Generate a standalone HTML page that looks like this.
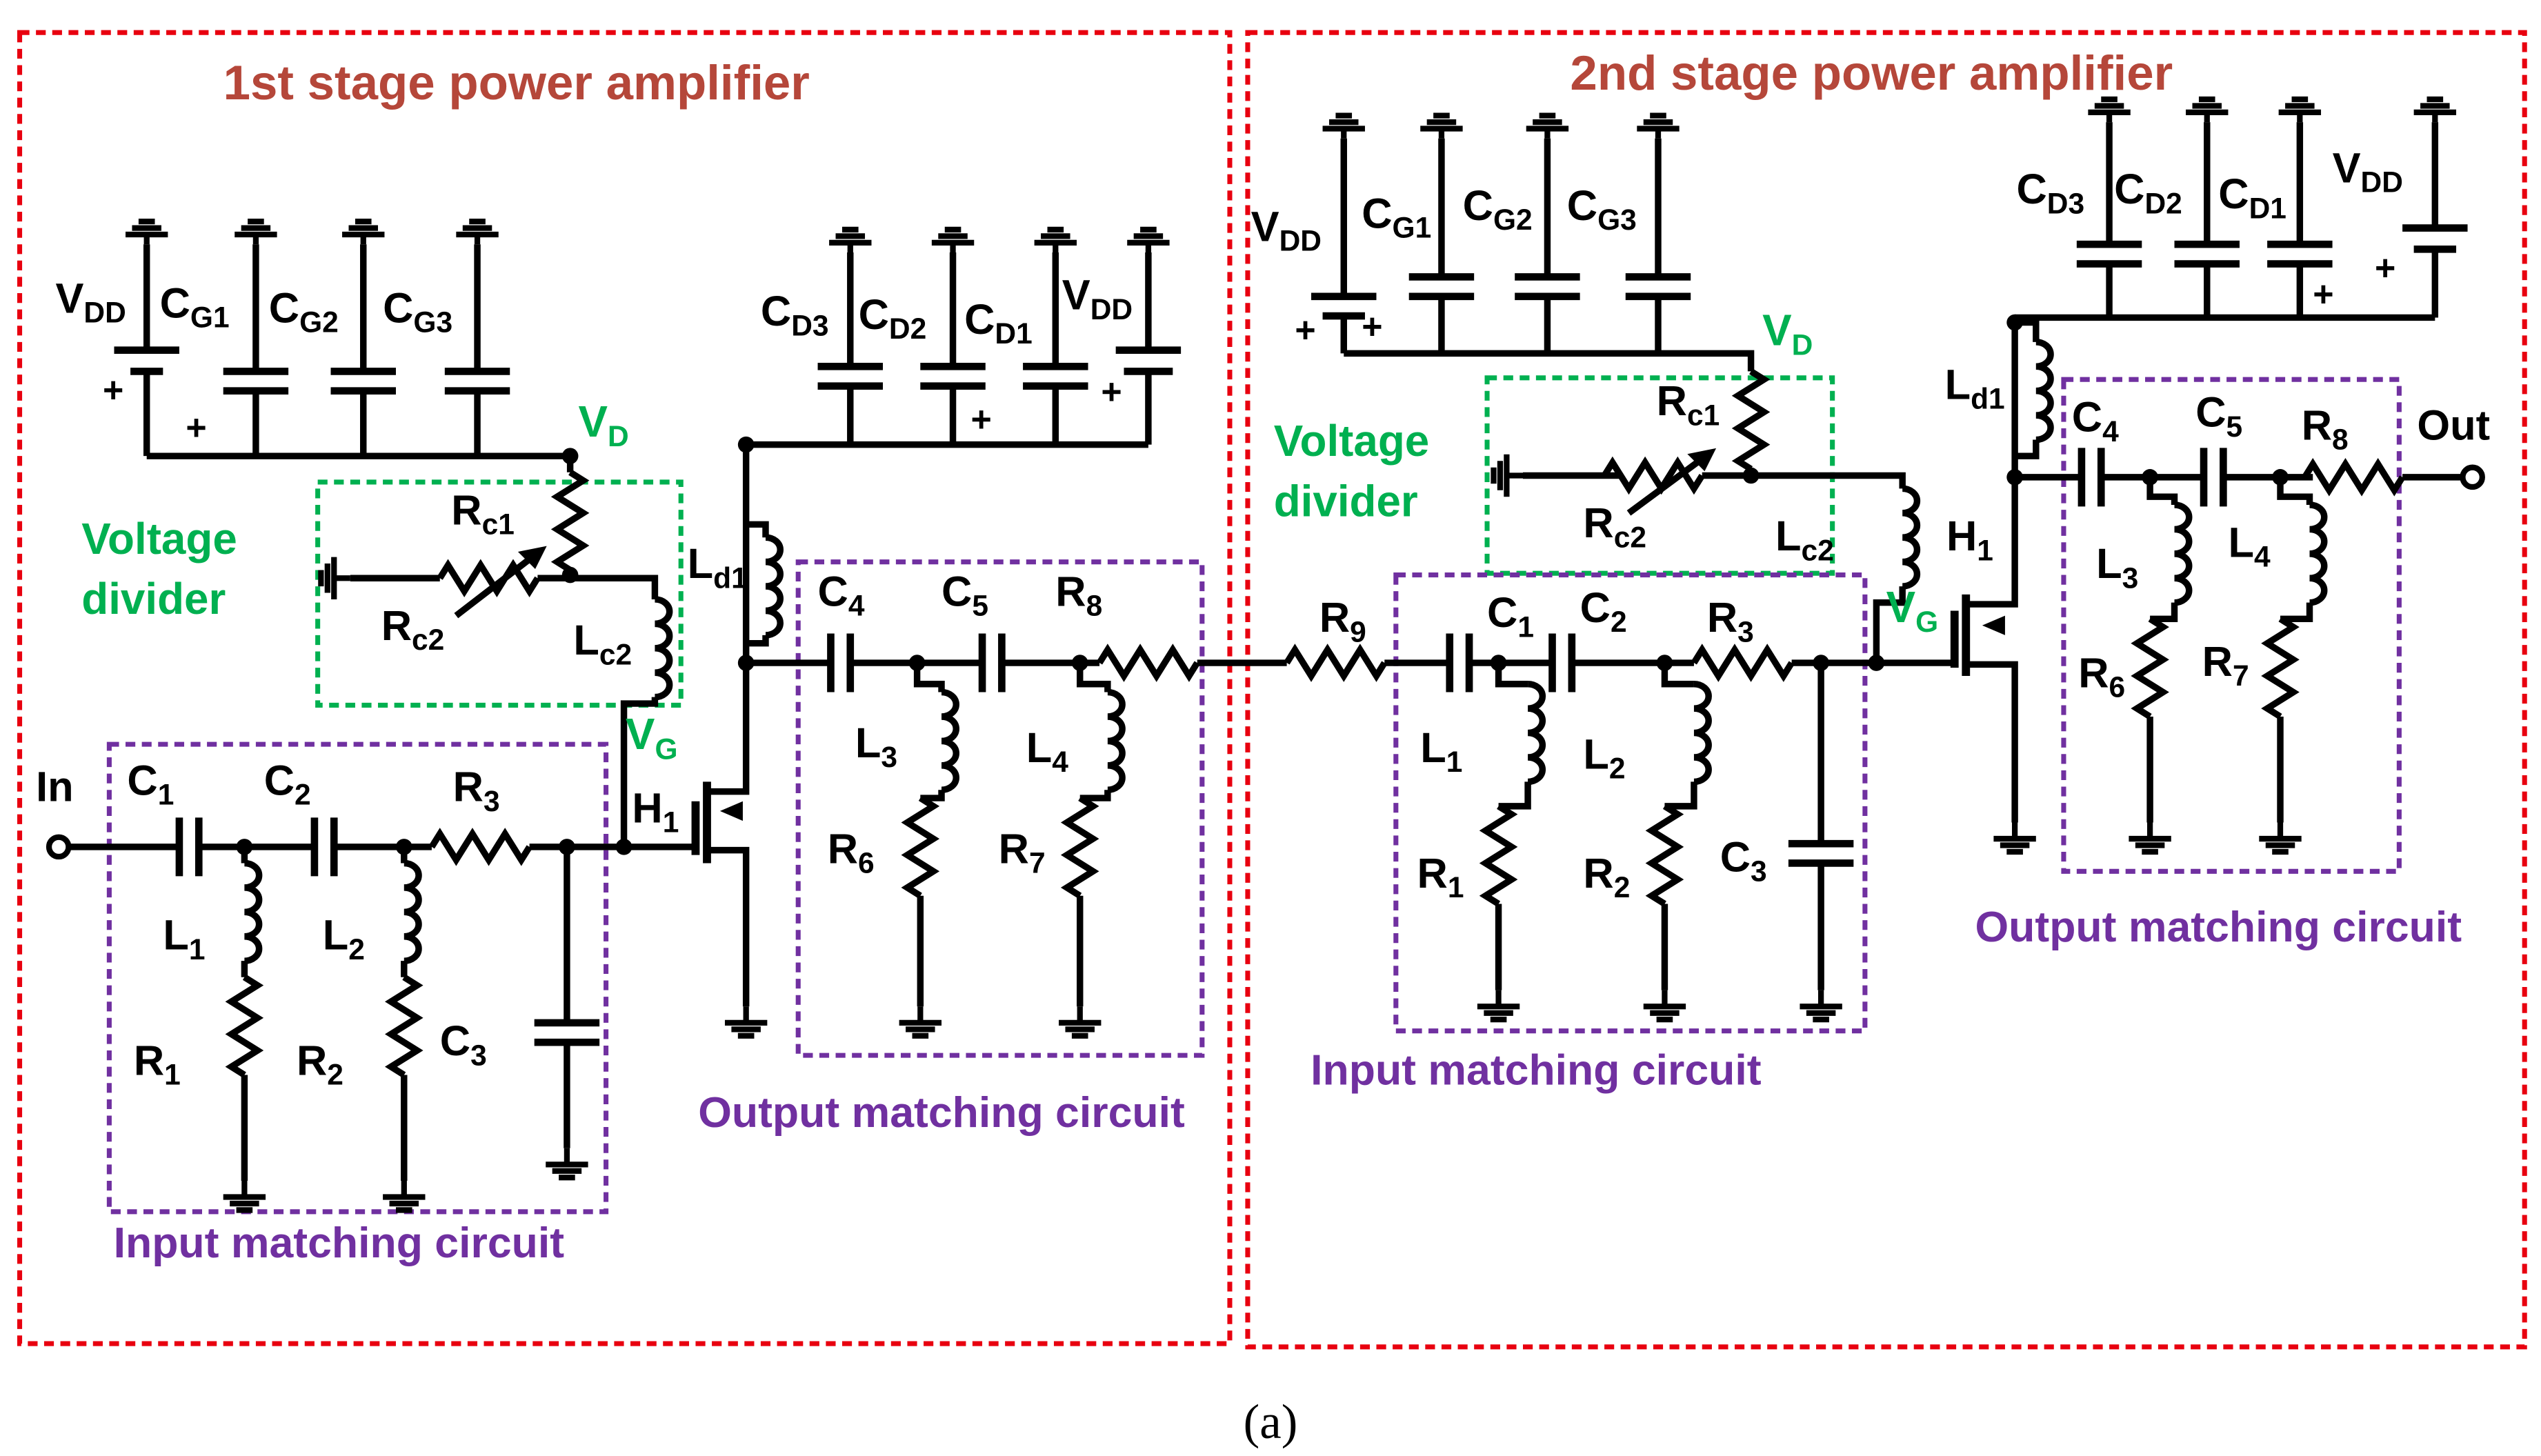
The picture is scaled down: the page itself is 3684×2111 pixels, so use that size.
<!DOCTYPE html>
<html><head><meta charset="utf-8"><style>
html,body{margin:0;padding:0;background:#fff}
svg{display:block}
text{font-family:"Liberation Sans",sans-serif;font-weight:bold}
</style></head><body>
<svg width="3684" height="2111" viewBox="0 0 1560 894" xmlns="http://www.w3.org/2000/svg">
<defs>
<path id="gd" d="M0 0 v10 M-13 10 h26 M-9 14 h18 M-5 18 h10" fill="none" stroke="#000" stroke-width="3.5"/>
<path id="gu" d="M0 0 v-6 M-13 -6 h26 M-9 -10 h18 M-5 -14 h10" fill="none" stroke="#000" stroke-width="3.5"/>
<path id="rv" d="M0 0 l8 5 l-16 10 l16 10 l-16 10 l16 10 l-16 10 l8 5" fill="none" stroke="#000" stroke-width="4" stroke-linejoin="miter"/>
<path id="lv" d="M0 0 a9 7.5 0 0 1 0 15 a9 7.5 0 0 1 0 15 a9 7.5 0 0 1 0 15 a9 7.5 0 0 1 0 15" fill="none" stroke="#000" stroke-width="4"/>
<path id="cv" d="M-20 0 h40 M-20 12 h40" fill="none" stroke="#000" stroke-width="4.5"/>
<path id="ch" d="M0 -18 v36 M12 -18 v36" fill="none" stroke="#000" stroke-width="4.5"/>
</defs>
<rect width="1560" height="894" fill="#fff"/>
<g fill="none" stroke="#e8000f" stroke-width="3" stroke-dasharray="6,4">
<rect x="12" y="20" width="743" height="805"/>
<rect x="766" y="20" width="784" height="807"/>
</g>
<g fill="#b5473a" font-size="30">
<text x="317" y="61" text-anchor="middle">1st stage power amplifier</text>
<text x="1149" y="55" text-anchor="middle">2nd stage power amplifier</text>
</g>
<text x="780" y="883" text-anchor="middle" font-size="30" style="font-family:'Liberation Serif',serif;font-weight:normal">(a)</text>

<g fill="none" stroke-width="3" stroke-dasharray="6,4">
<rect x="195" y="296" width="223" height="137" stroke="#00b050"/>
<rect x="913" y="232" width="212" height="120" stroke="#00b050"/>
<rect x="67" y="457" width="305" height="287" stroke="#7030a0"/>
<rect x="490" y="345" width="248" height="303" stroke="#7030a0"/>
<rect x="857" y="353" width="288" height="280" stroke="#7030a0"/>
<rect x="1267" y="233" width="206" height="302" stroke="#7030a0"/>
</g>

<g stroke="#000" stroke-width="4" fill="none">
<path d="M90 150 V215 M90 228 V280 M157 150 V228 M157 240 V280 M223 150 V228 M223 240 V280 M293 150 V228 M293 240 V280 M90 280 H350 V290"/>
<path d="M70 215 h40 M80 228 h20" stroke-width="4.5"/>
<path d="M350 350 V355 M215 355 H270 M330 355 H350 H402 V368 M402 428 V432 H383 V520"/>
<path d="M280 378 L332 338"/>
<path d="M332 338 l-10 2 l6 6z" fill="#000"/>
<path d="M40 520 H110 M122 520 H193 M205 520 H265 M325 520 H427 M150 520 V530 M150 590 V600 M150 660 V725 M248 520 V530 M248 590 V600 M248 660 V725 M348 520 V628 M348 640 V705"/>
<path d="M427 492 V525 M434 480 V530" stroke-width="5"/>
<path d="M434 486 H458 V273 M434 522 H458 V618"/>
<path d="M458 273 H705 M522 155 V225 M522 237 V273 M585 155 V225 M585 237 V273 M648 155 V225 M648 237 V273 M705 155 V215 M705 228 V273"/>
<path d="M685 215 h40 M690 228 h30" stroke-width="4.5"/>
<path d="M458 322 H470 V330 M470 390 V395 H458 M458 407 H510 M522 407 H603 M615 407 H675 M735 407 H790 M563 407 V420 H578 V425 M578 485 V490 H565 M565 550 V618 M663 407 V420 H680 V425 M680 485 V490 H663 M663 550 V618"/>
<path d="M850 407 H890 M902 407 H953 M965 407 H1040 M1100 407 H1200 M920 407 V420 H938 M938 480 V495 H920 M920 555 V608 M1022 407 V420 H1040 M1040 480 V495 H1022 M1022 555 V608 M1118 407 V518 M1118 530 V608"/>
<path d="M825 85 V182 M825 194 V217 M885 85 V170 M885 182 V217 M950 85 V170 M950 182 V217 M1018 85 V170 M1018 182 V217 M825 217 H1075 V228"/>
<path d="M805 182 h40 M812 194 h26" stroke-width="4.5"/>
<path d="M1075 288 V292 M935 292 H995 M1045 292 H1168 V300 M1168 360 V370 H1152 V407"/>
<path d="M1000 315 L1050 278"/>
<path d="M1050 278 l-10 2 l6 6z" fill="#000"/>
<path d="M1200 375 V410 M1207 365 V415" stroke-width="5"/>
<path d="M1207 371 H1237 V198 M1207 408 H1237 V505"/>
<path d="M1237 198 H1250 V210 M1250 270 V280 H1237"/>
<path d="M1237 195 H1495 M1295 75 V150 M1295 162 V195 M1355 75 V150 M1355 162 V195 M1412 75 V150 M1412 162 V195 M1495 75 V140 M1495 153 V195"/>
<path d="M1475 140 h40 M1482 153 h26" stroke-width="4.5"/>
<path d="M1237 293 H1278 M1290 293 H1353 M1365 293 H1420 M1475 293 H1513 M1320 293 V305 H1335 V310 M1335 370 V380 H1320 M1320 440 V505 M1400 293 V305 H1418 V310 M1418 370 V380 H1400 M1400 440 V505"/>
</g>
<use href="#gu" x="90" y="150"/><use href="#gu" x="157" y="150"/><use href="#gu" x="223" y="150"/><use href="#gu" x="293" y="150"/>
<use href="#gu" x="522" y="155"/><use href="#gu" x="585" y="155"/><use href="#gu" x="648" y="155"/><use href="#gu" x="705" y="155"/>
<use href="#gu" x="825" y="85"/><use href="#gu" x="885" y="85"/><use href="#gu" x="950" y="85"/><use href="#gu" x="1018" y="85"/>
<use href="#gu" x="1295" y="75"/><use href="#gu" x="1355" y="75"/><use href="#gu" x="1412" y="75"/><use href="#gu" x="1495" y="75"/>
<use href="#cv" x="157" y="228"/><use href="#cv" x="223" y="228"/><use href="#cv" x="293" y="228"/>
<use href="#cv" x="522" y="225"/><use href="#cv" x="585" y="225"/><use href="#cv" x="648" y="225"/>
<use href="#cv" x="885" y="170"/><use href="#cv" x="950" y="170"/><use href="#cv" x="1018" y="170"/>
<use href="#cv" x="1295" y="150"/><use href="#cv" x="1355" y="150"/><use href="#cv" x="1412" y="150"/>
<use href="#cv" x="348" y="628"/><use href="#cv" x="1118" y="518"/>
<use href="#ch" x="110" y="520"/><use href="#ch" x="193" y="520"/>
<use href="#ch" x="510" y="407"/><use href="#ch" x="603" y="407"/>
<use href="#ch" x="890" y="407"/><use href="#ch" x="953" y="407"/>
<use href="#ch" x="1278" y="293"/><use href="#ch" x="1353" y="293"/>
<use href="#rv" x="350" y="290"/><use href="#rv" x="150" y="600"/><use href="#rv" x="248" y="600"/>
<use href="#rv" x="565" y="490"/><use href="#rv" x="663" y="490"/>
<use href="#rv" x="920" y="495"/><use href="#rv" x="1022" y="495"/>
<use href="#rv" x="1075" y="228"/><use href="#rv" x="1320" y="380"/><use href="#rv" x="1400" y="380"/>
<use href="#rv" transform="translate(330 355) rotate(90)"/>
<use href="#rv" transform="translate(325 520) rotate(90)"/>
<use href="#rv" transform="translate(735 407) rotate(90)"/>
<use href="#rv" transform="translate(850 407) rotate(90)"/>
<use href="#rv" transform="translate(1100 407) rotate(90)"/>
<use href="#rv" transform="translate(1045 292) rotate(90)"/>
<use href="#rv" transform="translate(1475 293) rotate(90)"/>
<use href="#lv" x="402" y="368"/><use href="#lv" x="470" y="330"/>
<use href="#lv" x="150" y="530"/><use href="#lv" x="248" y="530"/>
<use href="#lv" x="578" y="425"/><use href="#lv" x="680" y="425"/>
<use href="#lv" x="938" y="420"/><use href="#lv" x="1040" y="420"/>
<use href="#lv" x="1168" y="300"/><use href="#lv" x="1250" y="210"/>
<use href="#lv" x="1335" y="310"/><use href="#lv" x="1418" y="310"/>
<use href="#gd" x="150" y="725"/><use href="#gd" x="248" y="725"/><use href="#gd" x="348" y="705"/>
<use href="#gd" x="458" y="618"/><use href="#gd" x="565" y="618"/><use href="#gd" x="663" y="618"/>
<use href="#gd" x="920" y="608"/><use href="#gd" x="1022" y="608"/><use href="#gd" x="1118" y="608"/>
<use href="#gd" x="1237" y="505"/><use href="#gd" x="1320" y="505"/><use href="#gd" x="1400" y="505"/>
<use href="#gd" transform="translate(215 355) rotate(90)"/>
<use href="#gd" transform="translate(935 292) rotate(90)"/>
<path d="M442 498 l14 -6 v12z" fill="#000"/>
<path d="M1217 384 l14 -6 v12z" fill="#000"/>
<g fill="#000">
<circle cx="150" cy="520" r="5"/><circle cx="248" cy="520" r="5"/><circle cx="348" cy="520" r="5"/><circle cx="383" cy="520" r="5"/>
<circle cx="350" cy="353" r="5"/><circle cx="350" cy="280" r="5"/>
<circle cx="458" cy="273" r="5"/><circle cx="458" cy="407" r="5"/><circle cx="563" cy="407" r="5"/><circle cx="663" cy="407" r="5"/>
<circle cx="920" cy="407" r="5"/><circle cx="1022" cy="407" r="5"/><circle cx="1118" cy="407" r="5"/><circle cx="1152" cy="407" r="5"/>
<circle cx="1075" cy="292" r="5"/><circle cx="1237" cy="198" r="5"/><circle cx="1237" cy="293" r="5"/><circle cx="1320" cy="293" r="5"/><circle cx="1400" cy="293" r="5"/>
</g>
<circle cx="36" cy="520" r="6" fill="#fff" stroke="#000" stroke-width="3.5"/>
<circle cx="1518" cy="293" r="6" fill="#fff" stroke="#000" stroke-width="3.5"/>
<g font-size="22" fill="#000">
<text x="63" y="247">+</text><text x="114" y="270">+</text><text x="596" y="265">+</text><text x="676" y="248">+</text>
<text x="795" y="210">+</text><text x="836" y="208">+</text><text x="1420" y="188">+</text><text x="1458" y="172">+</text>
</g>
<g font-size="26" fill="#000">
<text x="34" y="192">V<tspan font-size="18" dy="6">DD</tspan></text>
<text x="98" y="195">C<tspan font-size="18" dy="6">G1</tspan></text>
<text x="165" y="198">C<tspan font-size="18" dy="6">G2</tspan></text>
<text x="235" y="198">C<tspan font-size="18" dy="6">G3</tspan></text>
<text x="467" y="200">C<tspan font-size="18" dy="6">D3</tspan></text>
<text x="527" y="202">C<tspan font-size="18" dy="6">D2</tspan></text>
<text x="592" y="205">C<tspan font-size="18" dy="6">D1</tspan></text>
<text x="652" y="190">V<tspan font-size="18" dy="6">DD</tspan></text>
<text x="277" y="322">R<tspan font-size="18" dy="6">c1</tspan></text>
<text x="234" y="393">R<tspan font-size="18" dy="6">c2</tspan></text>
<text x="352" y="402">L<tspan font-size="18" dy="6">c2</tspan></text>
<text x="422" y="355">L<tspan font-size="18" dy="6">d1</tspan></text>
<text x="22" y="492">In</text>
<text x="78" y="488">C<tspan font-size="18" dy="6">1</tspan></text>
<text x="162" y="488">C<tspan font-size="18" dy="6">2</tspan></text>
<text x="278" y="492">R<tspan font-size="18" dy="6">3</tspan></text>
<text x="100" y="583">L<tspan font-size="18" dy="6">1</tspan></text>
<text x="198" y="583">L<tspan font-size="18" dy="6">2</tspan></text>
<text x="82" y="660">R<tspan font-size="18" dy="6">1</tspan></text>
<text x="182" y="660">R<tspan font-size="18" dy="6">2</tspan></text>
<text x="270" y="648">C<tspan font-size="18" dy="6">3</tspan></text>
<text x="388" y="505">H<tspan font-size="18" dy="6">1</tspan></text>
<text x="502" y="372">C<tspan font-size="18" dy="6">4</tspan></text>
<text x="578" y="372">C<tspan font-size="18" dy="6">5</tspan></text>
<text x="648" y="372">R<tspan font-size="18" dy="6">8</tspan></text>
<text x="525" y="465">L<tspan font-size="18" dy="6">3</tspan></text>
<text x="630" y="468">L<tspan font-size="18" dy="6">4</tspan></text>
<text x="508" y="530">R<tspan font-size="18" dy="6">6</tspan></text>
<text x="613" y="530">R<tspan font-size="18" dy="6">7</tspan></text>
<text x="810" y="388">R<tspan font-size="18" dy="6">9</tspan></text>
<text x="913" y="385">C<tspan font-size="18" dy="6">1</tspan></text>
<text x="970" y="382">C<tspan font-size="18" dy="6">2</tspan></text>
<text x="1048" y="388">R<tspan font-size="18" dy="6">3</tspan></text>
<text x="872" y="468">L<tspan font-size="18" dy="6">1</tspan></text>
<text x="972" y="472">L<tspan font-size="18" dy="6">2</tspan></text>
<text x="870" y="545">R<tspan font-size="18" dy="6">1</tspan></text>
<text x="972" y="545">R<tspan font-size="18" dy="6">2</tspan></text>
<text x="1056" y="535">C<tspan font-size="18" dy="6">3</tspan></text>
<text x="768" y="148">V<tspan font-size="18" dy="6">DD</tspan></text>
<text x="836" y="140">C<tspan font-size="18" dy="6">G1</tspan></text>
<text x="898" y="135">C<tspan font-size="18" dy="6">G2</tspan></text>
<text x="962" y="135">C<tspan font-size="18" dy="6">G3</tspan></text>
<text x="1017" y="255">R<tspan font-size="18" dy="6">c1</tspan></text>
<text x="972" y="330">R<tspan font-size="18" dy="6">c2</tspan></text>
<text x="1090" y="338">L<tspan font-size="18" dy="6">c2</tspan></text>
<text x="1194" y="245">L<tspan font-size="18" dy="6">d1</tspan></text>
<text x="1195" y="338">H<tspan font-size="18" dy="6">1</tspan></text>
<text x="1238" y="125">C<tspan font-size="18" dy="6">D3</tspan></text>
<text x="1298" y="125">C<tspan font-size="18" dy="6">D2</tspan></text>
<text x="1362" y="128">C<tspan font-size="18" dy="6">D1</tspan></text>
<text x="1432" y="112">V<tspan font-size="18" dy="6">DD</tspan></text>
<text x="1272" y="265">C<tspan font-size="18" dy="6">4</tspan></text>
<text x="1348" y="262">C<tspan font-size="18" dy="6">5</tspan></text>
<text x="1413" y="270">R<tspan font-size="18" dy="6">8</tspan></text>
<text x="1484" y="270">Out</text>
<text x="1287" y="355">L<tspan font-size="18" dy="6">3</tspan></text>
<text x="1368" y="342">L<tspan font-size="18" dy="6">4</tspan></text>
<text x="1276" y="422">R<tspan font-size="18" dy="6">6</tspan></text>
<text x="1352" y="415">R<tspan font-size="18" dy="6">7</tspan></text>
</g>
<g font-size="27" fill="#00b050">
<text x="355" y="268">V<tspan font-size="18" dy="6">D</tspan></text>
<text x="384" y="460">V<tspan font-size="18" dy="6">G</tspan></text>
<text x="50" y="340">Voltage</text>
<text x="50" y="377">divider</text>
<text x="1082" y="212">V<tspan font-size="18" dy="6">D</tspan></text>
<text x="1158" y="382">V<tspan font-size="18" dy="6">G</tspan></text>
<text x="782" y="280">Voltage</text>
<text x="782" y="317">divider</text>
</g>
<g font-size="26.5" fill="#7030a0" text-anchor="middle">
<text x="208" y="772">Input matching circuit</text>
<text x="578" y="692">Output matching circuit</text>
<text x="943" y="666">Input matching circuit</text>
<text x="1362" y="578">Output matching circuit</text>
</g>
</svg>
</body></html>
